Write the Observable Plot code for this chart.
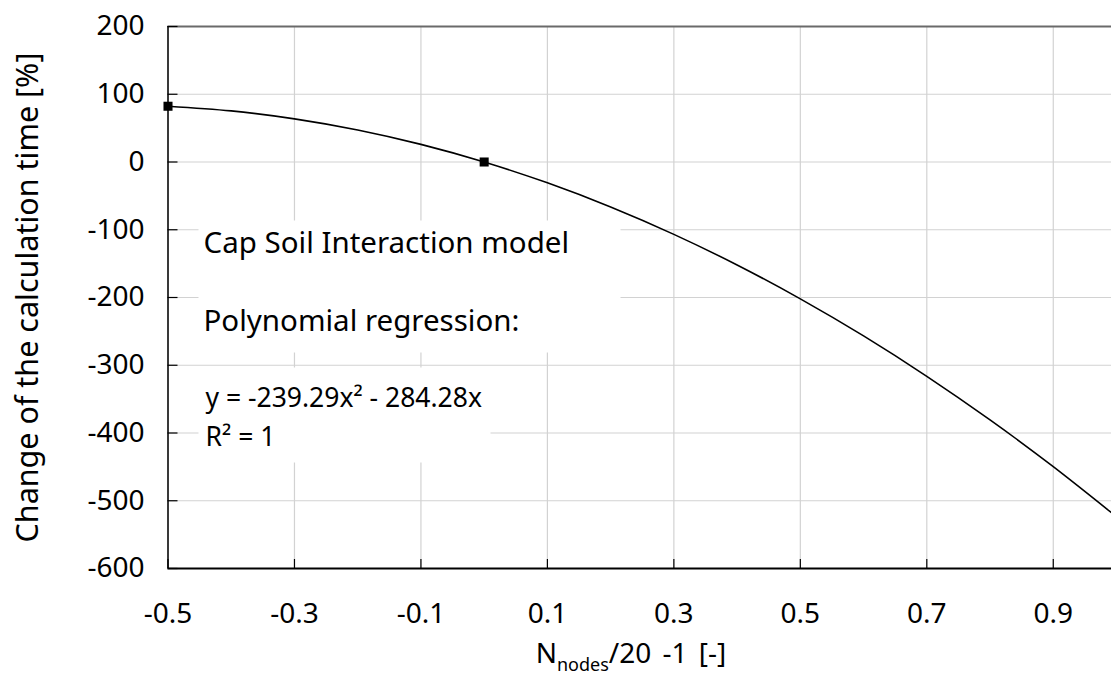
<!DOCTYPE html>
<html><head><meta charset="utf-8">
<script src="https://cdn.jsdelivr.net/npm/d3@7"></script>
<script src="https://cdn.jsdelivr.net/npm/@observablehq/plot@0.6"></script>
<style>
html,body{margin:0;padding:0;background:#fff;overflow:hidden;}
#chart svg{display:block;}
</style></head><body><div id="chart"></div>
<script>
// ---- data ----
const xTicks = [-0.5, -0.3, -0.1, 0.1, 0.3, 0.5, 0.7, 0.9];
const yTicks = [200, 100, 0, -100, -200, -300, -400, -500, -600];
const pointX = [-0.5, 0];
const pointY = [82.3, 0];
const trendX = [-0.5, -0.4, -0.3, -0.2, -0.1, 0, 0.1, 0.2, 0.3, 0.4, 0.5, 0.6, 0.7, 0.8, 0.9, 1.0];
const trendY = [82.3, 75.4, 63.7, 47.3, 26.0, 0, -30.8, -66.4, -106.8, -152.0, -202.0, -256.7, -316.3, -380.6, -449.7, -523.6];
const annotationLines = ["Cap Soil Interaction model", "Polynomial regression:", "y = -239.29x² - 284.28x", "R² = 1"];
const xLabelParts = ["N", "nodes", "/20 -1 [-]"];
const yLabel = "Change of the calculation time [%]";

const points = pointX.map((x, i) => ({x, y: pointY[i]}));
const trend = trendX.map((x, i) => ({x, y: trendY[i]}));

// ---- layout ----
const W = 1111, H = 675, mL = 167.5, mT = 26, mB = 107, mR = -5;
const frameW = W - mR - mL;
const frameH = H - mB - mT;
const font = "'Noto Sans', sans-serif";
const grid = "#d2d2d2";

const chart = Plot.plot({
  width: W, height: H,
  marginLeft: mL, marginRight: mR, marginTop: mT, marginBottom: mB,
  style: {fontFamily: font, fontSize: "28px", color: "#000", background: "#fff", overflow: "hidden"},
  x: {domain: [-0.5, 1.0]},
  y: {domain: [-600, 200]},
  marks: [
    Plot.gridX(xTicks, {stroke: grid, strokeOpacity: 1, strokeWidth: 1.2}),
    Plot.gridY(yTicks, {stroke: grid, strokeOpacity: 1, strokeWidth: 1.2}),
    // white label boxes
    Plot.frame({fill: "white", stroke: null, insetLeft: 30.5, insetRight: frameW - (620 - mL), insetTop: 194, insetBottom: 216}),
    Plot.frame({fill: "white", stroke: null, insetLeft: 30.5, insetRight: frameW - (490 - mL), insetTop: 341, insetBottom: 106}),
    // borders
    Plot.ruleY([200], {stroke: "#6a6a6a", strokeWidth: 2}),
    Plot.ruleY([-600], {stroke: "#000", strokeWidth: 2}),
    Plot.ruleX([-0.5], {stroke: "#000", strokeWidth: 1.5}),
    // inward ticks
    Plot.tickX(xTicks, {x: d => d, stroke: "#000", strokeWidth: 1.2, insetTop: frameH - 9}),
    Plot.tickY(yTicks, {y: d => d, stroke: "#000", strokeWidth: 1.2, insetRight: frameW - 10}),
    // axes labels
    Plot.axisX(xTicks, {tickSize: 0, tickPadding: 35, tickFormat: d => String(d), label: null, fontSize: 28}),
    Plot.axisY(yTicks, {tickSize: 0, tickPadding: 23.5, tickFormat: d => String(d), label: null, fontSize: 28}),
    // data
    Plot.line(trend, {x: "x", y: "y", curve: "natural", stroke: "#000", strokeWidth: 1.6, clip: true}),
    Plot.dot(points, {x: "x", y: "y", symbol: "square", r: 5.1, fill: "#000", stroke: null}),
    // annotation
    Plot.text([annotationLines[0]], {text: d => d, frameAnchor: "top-left", textAnchor: "start", lineAnchor: "bottom", dx: 203 - mL, dy: 252 - mT, fontSize: 29.5, fill: "#000"}),
    Plot.text([annotationLines[1]], {text: d => d, frameAnchor: "top-left", textAnchor: "start", lineAnchor: "bottom", dx: 203 - mL, dy: 330 - mT, fontSize: 29.5, fill: "#000"}),
    Plot.text([annotationLines[2]], {text: d => d, frameAnchor: "top-left", textAnchor: "start", lineAnchor: "bottom", dx: 205 - mL, dy: 406 - mT, fontSize: 26.5, fill: "#000"}),
    Plot.text([annotationLines[3]], {text: d => d, frameAnchor: "top-left", textAnchor: "start", lineAnchor: "bottom", dx: 205 - mL, dy: 445 - mT, fontSize: 26.5, fill: "#000"}),
    // axis titles
    Plot.text([yLabel], {text: d => d, frameAnchor: "left", rotate: -90, textAnchor: "middle", lineAnchor: "middle", dx: -(mL - 28), fontSize: 30.5, fill: "#000"}),
    Plot.text([xLabelParts.join("")], {text: d => d, frameAnchor: "bottom", textAnchor: "middle", lineAnchor: "bottom", dx: 630.5 - (mL + frameW / 2), dy: 662 - (mT + frameH), fontSize: 28, fill: "#000"})
  ]
});

// subscript in the x-axis title
d3.select(chart).selectAll("text")
  .filter(function() { return this.textContent === xLabelParts.join(""); })
  .each(function() {
    const t = d3.select(this);
    t.text(null).style("word-spacing", "4px");
    t.append("tspan").text(xLabelParts[0]);
    t.append("tspan").attr("font-size", 18).attr("dy", 8).text(xLabelParts[1]);
    t.append("tspan").attr("dy", -8).text(xLabelParts[2]);
  });

document.getElementById("chart").appendChild(chart);
</script>
</body></html>
